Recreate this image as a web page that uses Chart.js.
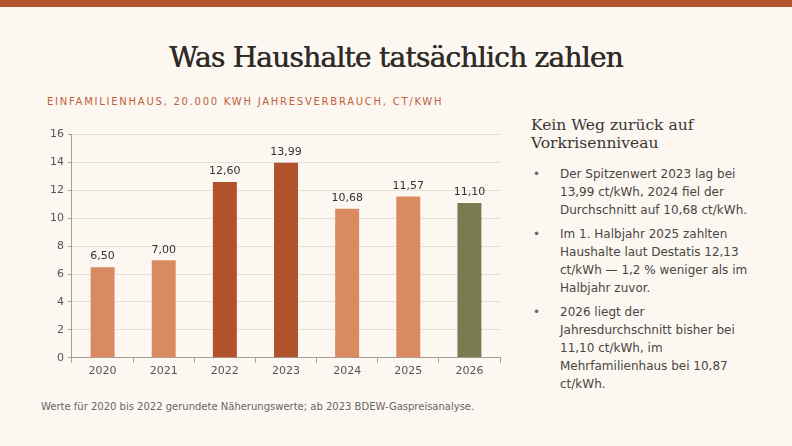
<!DOCTYPE html>
<html lang="de">
<head>
<meta charset="utf-8">
<script src="https://cdn.jsdelivr.net/npm/chart.js@4"></script>
<style>
  html, body { margin: 0; padding: 0; }
  body { width: 792px; height: 446px; background: #fcf7f1; position: relative; overflow: hidden; font-family: "Open Sans", sans-serif; }
  .topbar { position: absolute; left: 0; top: 0; width: 792px; height: 7px; background: #b5532c; }
  h1 { position: absolute; left: 0; width: 792px; top: 41px; margin: 0; text-align: center; font-family: "DejaVu Serif", serif; font-weight: normal; font-size: 28px; color: #2f2c28; letter-spacing: -0.75px; text-shadow: 0.5px 0 0 #2f2c28; }
  .sub { position: absolute; left: 47px; top: 96px; font-size: 10px; letter-spacing: 1.75px; color: #c0603a; font-family: "DejaVu Sans", sans-serif; }
  .chartbox { position: absolute; left: 46px; top: 124px; width: 458px; height: 256px; }
  .note { position: absolute; left: 41px; top: 401px; font-size: 10px; color: #666; font-family: "DejaVu Sans", sans-serif; }
  .side { position: absolute; left: 531px; top: 116px; width: 226px; color: #333; }
  .side h2 { margin: 0 0 13px 0; font-family: "DejaVu Serif", serif; font-weight: normal; font-size: 15.5px; line-height: 18px; color: #3a3632; }
  .side ul { margin: 0; padding: 0; list-style: none; }
  .side li { position: relative; padding-left: 29px; font-size: 12px; line-height: 18px; color: #4a4642; margin-bottom: 6px; font-family: "DejaVu Sans", sans-serif; }
  .side li::before { content: "•"; position: absolute; left: 2px; top: 0; color: #666; }
</style>
</head>
<body>
<div class="topbar"></div>
<h1>Was Haushalte tatsächlich zahlen</h1>
<div class="sub">EINFAMILIENHAUS, 20.000 KWH JAHRESVERBRAUCH, CT/KWH</div>
<div class="chartbox"><canvas id="gasChart"></canvas></div>
<div class="note">Werte für 2020 bis 2022 gerundete Näherungswerte; ab 2023 BDEW-Gaspreisanalyse.</div>
<div class="side">
  <h2>Kein Weg zurück auf Vorkrisenniveau</h2>
  <ul>
    <li>Der Spitzenwert 2023 lag bei 13,99 ct/kWh, 2024 fiel der Durchschnitt auf 10,68 ct/kWh.</li>
    <li>Im 1. Halbjahr 2025 zahlten Haushalte laut Destatis 12,13 ct/kWh — 1,2 % weniger als im Halbjahr zuvor.</li>
    <li>2026 liegt der Jahresdurchschnitt bisher bei 11,10 ct/kWh, im Mehrfamilienhaus bei 10,87 ct/kWh.</li>
  </ul>
</div>
<script>
// Gaspreise Einfamilienhaus
const years = ['2020', '2021', '2022', '2023', '2024', '2025', '2026'];
const prices = [6.50, 7.00, 12.60, 13.99, 10.68, 11.57, 11.10];
const barColors = ['#d98a61', '#d98a61', '#b0522b', '#b0522b', '#d98a61', '#d98a61', '#7a7b51'];
const yTicks = [0, 2, 4, 6, 8, 10, 12, 14, 16];

// Werte über den Balken
const valueLabels = {
  id: 'valueLabels',
  afterDatasetsDraw(chart) {
    let ctx = chart.ctx;
    let meta = chart.getDatasetMeta(0);
    ctx.save();
    ctx.font = '11px "DejaVu Sans", sans-serif';
    ctx.fillStyle = '#333';
    ctx.textAlign = 'center';
    ctx.textBaseline = 'bottom';
    meta.data.forEach(function (bar, i) {
      ctx.fillText(prices[i].toFixed(2).replace('.', ','), bar.x, bar.y - 5);
    });
    ctx.restore();
  }
};

new Chart(document.getElementById('gasChart'), {
  type: 'bar',
  data: {
    labels: years,
    datasets: [{
      data: prices,
      backgroundColor: barColors,
      barPercentage: 0.49,
      categoryPercentage: 0.8
    }]
  },
  options: {
    responsive: true,
    maintainAspectRatio: false,
    animation: false,
    layout: { padding: { top: 4, right: 4 } },
    plugins: { legend: { display: false }, tooltip: { enabled: false } },
    scales: {
      x: {
        grid: { display: true, drawOnChartArea: false, offset: true, color: '#a59f98', tickLength: 5 },
        border: { color: '#a59f98' },
        ticks: { color: '#555', font: { family: '"DejaVu Sans", sans-serif', size: 11 }, padding: 2 }
      },
      y: {
        min: 0,
        max: 16,
        afterBuildTicks(axis) { axis.ticks = yTicks.map(v => ({ value: v })); },
        grid: { color: '#e6dfd6', tickLength: 4, tickColor: '#a59f98' },
        border: { color: '#a59f98' },
        ticks: { color: '#555', font: { family: '"DejaVu Sans", sans-serif', size: 11 }, padding: 4 }
      }
    }
  },
  plugins: [valueLabels]
});
</script>
</body>
</html>
